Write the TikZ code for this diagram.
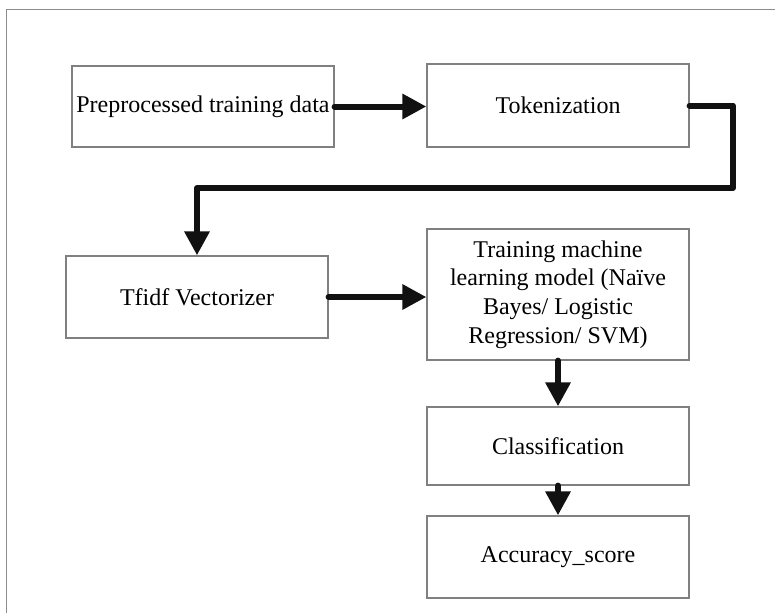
\documentclass[tikz,border=0pt]{standalone}
\usepackage{fontspec}
\setmainfont{Liberation Serif}
\usetikzlibrary{arrows.meta}
\definecolor{boxline}{RGB}{128,128,128}
\definecolor{frameline}{RGB}{140,140,140}
\definecolor{flowink}{RGB}{17,17,17}
\begin{document}
\begin{tikzpicture}[x=1pt,y=-1pt,
  stepbox/.style={draw=boxline,line width=1.2pt,minimum width=262pt,inner sep=0pt,
    font=\fontsize{24}{28.7}\selectfont,align=center},
  flow/.style={draw=flowink,line width=6pt,line cap=round,line join=round,
    -{Triangle[length=24pt,width=24pt]}}]
  \useasboundingbox (0,0) rectangle (775,613);
  % page frame
  \draw[frameline,line width=1pt] (6,613) -- (6,9.5) -- (775,9.5);

  % processing steps
  \node[stepbox,minimum height=81pt] (pre) at (203,106.5) {Preprocessed training data};
  \node[stepbox,minimum height=83pt] (tok) at (558,105.5) {Tokenization};
  \node[stepbox,minimum height=82pt] (tfidf) at (197,297) {Tfidf Vectorizer};
  \node[stepbox,minimum height=131pt] (train) at (558,294.5)
    {Training machine\\learning model (Naïve\\Bayes/ Logistic\\Regression/ SVM)};
  \node[stepbox,minimum height=78pt] (cls) at (558,446) {Classification};
  \node[stepbox,minimum height=82pt] (acc) at (558,557) {Accuracy\_score};

  % connectors
  \coordinate (turnA) at (733,188);
  \coordinate (turnB) at (197,188);
  \draw[flow] (pre.east) -- (pre.east -| tok.west);
  \draw[flow] (tok.east) -| (turnA) -- (turnB) -- (tfidf.north);
  \draw[flow] (tfidf.east) -- (tfidf.east -| train.west);
  \draw[flow] (train.south) -- (cls.north);
  \draw[flow] (cls.south) -- (acc.north);
\end{tikzpicture}
\end{document}
